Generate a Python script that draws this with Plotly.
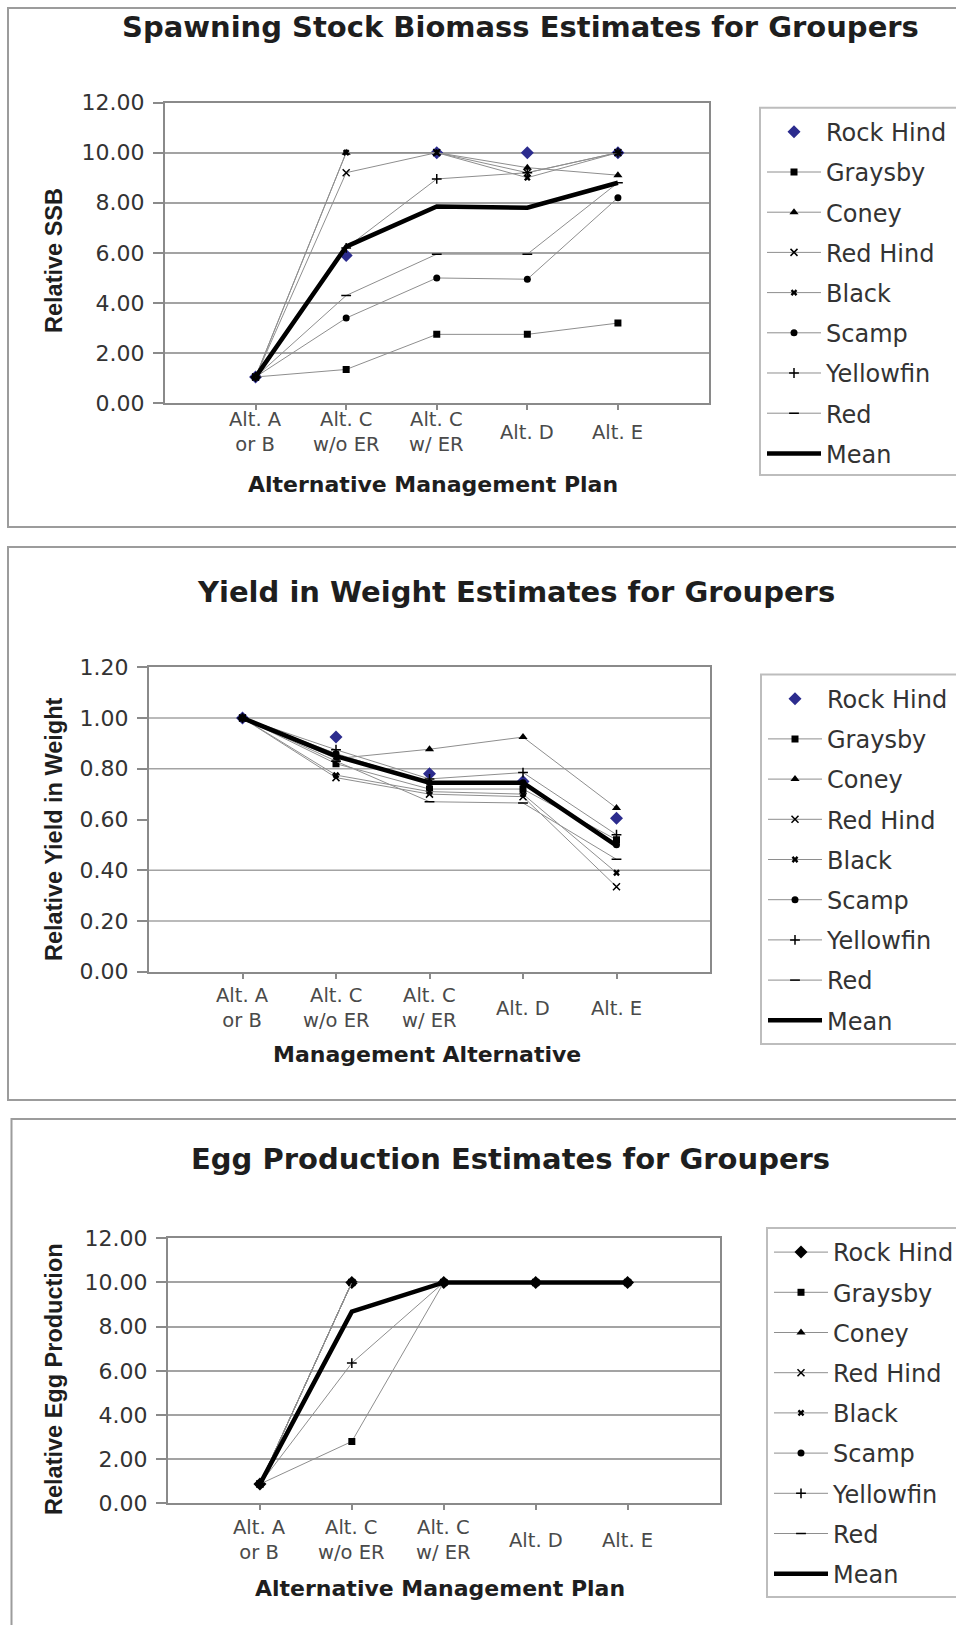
import plotly.graph_objects as go

W, H = 956, 1625

CATEGORIES = ["Alt. A<br>or B", "Alt. C<br>w/o ER", "Alt. C<br>w/ ER", "Alt. D", "Alt. E"]
SPECIES = ["Rock Hind", "Graysby", "Coney", "Red Hind", "Black", "Scamp", "Yellowfin", "Red"]

# Relative spawning stock biomass
SSB_ROCK_HIND = [1.05, 5.9, 10.0, 10.0, 10.0]
SSB_GRAYSBY = [1.05, 1.35, 2.75, 2.75, 3.2]
SSB_CONEY = [1.05, 10.0, 10.0, 9.4, 9.1]
SSB_RED_HIND = [1.05, 9.2, 10.0, 9.2, 10.0]
SSB_BLACK = [1.05, 10.0, 10.0, 9.0, 10.0]
SSB_SCAMP = [1.05, 3.4, 5.0, 4.95, 8.2]
SSB_YELLOWFIN = [1.05, 6.2, 8.95, 9.2, 10.0]
SSB_RED = [1.05, 4.3, 5.95, 5.95, 8.8]
SSB_MEAN = [1.05, 6.25, 7.85, 7.8, 8.8]

# Relative yield in weight
YIELD_ROCK_HIND = [1.0, 0.925, 0.78, 0.75, 0.605]
YIELD_GRAYSBY = [1.0, 0.82, 0.72, 0.72, 0.52]
YIELD_CONEY = [1.0, 0.84, 0.877, 0.925, 0.645]
YIELD_RED_HIND = [1.0, 0.765, 0.70, 0.69, 0.335]
YIELD_BLACK = [1.0, 0.775, 0.71, 0.70, 0.39]
YIELD_SCAMP = [1.0, 0.86, 0.745, 0.745, 0.50]
YIELD_YELLOWFIN = [1.0, 0.875, 0.76, 0.785, 0.54]
YIELD_RED = [1.0, 0.83, 0.67, 0.665, 0.443]
YIELD_MEAN = [1.0, 0.85, 0.745, 0.745, 0.497]

# Relative egg production
EGG_ROCK_HIND = [0.87, 10.0, 10.0, 10.0, 10.0]
EGG_GRAYSBY = [0.87, 2.8, 10.0, 10.0, 10.0]
EGG_CONEY = [0.87, 10.0, 10.0, 10.0, 10.0]
EGG_RED_HIND = [0.87, 10.0, 10.0, 10.0, 10.0]
EGG_BLACK = [0.87, 10.0, 10.0, 10.0, 10.0]
EGG_SCAMP = [0.87, 10.0, 10.0, 10.0, 10.0]
EGG_YELLOWFIN = [0.87, 6.35, 10.0, 10.0, 10.0]
EGG_RED = [0.87, 10.0, 10.0, 10.0, 10.0]
EGG_MEAN = [0.87, 8.68, 10.0, 10.0, 10.0]

YIELD_GRIDLINES = [0.2, 0.4, 0.8, 1.0]

FONT = "DejaVu Sans"
TITLE_FONT = dict(family=FONT, size=29, color="#1e1e1e", weight="bold")
XTITLE_FONT = dict(family=FONT, size=22, color="#1e1e1e", weight="bold")
YTITLE_FONT = dict(family="Liberation Sans", size=23.5, color="#1e1e1e", weight="bold")
TICK_FONT = dict(family=FONT, size=22, color="#333333")
CAT_FONT = dict(family=FONT, size=19.5, color="#4a4a4a")
SPECIES_LINE = "#8e8e8e"
FRAME = "#8a8a8a"
GRID = "#a3a3a3"
ROCK_BLUE = "#2c2c8e"

MARKERS = {
    "Rock Hind": dict(symbol="diamond", size=10),
    "Graysby": dict(symbol="square", size=7),
    "Coney": dict(symbol="triangle-up", size=8),
    "Red Hind": dict(symbol="x-thin", size=7),
    "Black": dict(symbol="x", size=6),
    "Scamp": dict(symbol="circle", size=7),
    "Yellowfin": dict(symbol="cross-thin", size=7),
    "Red": dict(symbol="line-ew", size=7),
}


def px(x):
    return x / W


def py(y):
    return 1 - y / H


panels = [
    dict(
        series=[SSB_ROCK_HIND, SSB_GRAYSBY, SSB_CONEY, SSB_RED_HIND, SSB_BLACK,
                SSB_SCAMP, SSB_YELLOWFIN, SSB_RED],
        mean=SSB_MEAN, rock_blue=True,
        plot=(165, 708.5, 102.5, 403.3), yrange=[0, 12], dtick=2,
        box=(8, 8, 527), legend=(760, 107.7, 475), cat_y=432,
        title="Spawning Stock Biomass Estimates for Groupers", title_xy=(520, 26.5),
        xtitle="Alternative Management Plan", xtitle_xy=(433, 484),
        ytitle="Relative SSB", ytitle_y=261,
    ),
    dict(
        series=[YIELD_ROCK_HIND, YIELD_GRAYSBY, YIELD_CONEY, YIELD_RED_HIND, YIELD_BLACK,
                YIELD_SCAMP, YIELD_YELLOWFIN, YIELD_RED],
        mean=YIELD_MEAN, rock_blue=True,
        plot=(149, 710, 667.3, 971.7), yrange=[0, 1.2], dtick=0.2,
        box=(8, 547, 1100), legend=(761, 674.6, 1044), cat_y=1008,
        title="Yield in Weight Estimates for Groupers", title_xy=(516, 591.5),
        xtitle="Management Alternative", xtitle_xy=(427, 1054.5),
        ytitle="Relative Yield in Weight", ytitle_y=829,
    ),
    dict(
        series=[EGG_ROCK_HIND, EGG_GRAYSBY, EGG_CONEY, EGG_RED_HIND, EGG_BLACK,
                EGG_SCAMP, EGG_YELLOWFIN, EGG_RED],
        mean=EGG_MEAN, rock_blue=False,
        plot=(168, 719.5, 1238.3, 1503.3), yrange=[0, 12], dtick=2,
        box=(11.5, 1119, 1645), legend=(767, 1228, 1597), cat_y=1540,
        title="Egg Production Estimates for Groupers", title_xy=(511, 1158.5),
        xtitle="Alternative Management Plan", xtitle_xy=(440, 1588),
        ytitle="Relative Egg Production", ytitle_y=1379,
    ),
]

fig = go.Figure()
layout = dict(
    width=W, height=H,
    margin=dict(l=0, r=0, t=0, b=0, autoexpand=False),
    paper_bgcolor="white", plot_bgcolor="white",
    showlegend=True,
)
shapes = []
annotations = []

for k, p in enumerate(panels, start=1):
    sfx = "" if k == 1 else str(k)
    xa, ya = "x" + sfx, "y" + sfx
    leg = "legend" + sfx

    for name, vals in zip(SPECIES, p["series"]):
        m = MARKERS[name]
        thin = m["symbol"] in ("x-thin", "cross-thin", "line-ew")
        marker = dict(symbol=m["symbol"], size=m["size"], color="black",
                      line=dict(color="black", width=1.5 if thin else 0))
        mode = "lines+markers"
        if name == "Rock Hind" and p["rock_blue"]:
            marker["color"] = ROCK_BLUE
            mode = "markers"
        fig.add_trace(go.Scatter(
            x=CATEGORIES, y=vals, name=name, mode=mode,
            line=dict(color=SPECIES_LINE, width=1),
            marker=marker, xaxis=xa, yaxis=ya,
            legend=leg, legendgroup=f"{leg}-{name}",
        ))
    fig.add_trace(go.Scatter(
        x=CATEGORIES, y=p["mean"], name="Mean", mode="lines",
        line=dict(color="black", width=4.5),
        xaxis=xa, yaxis=ya, legend=leg, legendgroup=f"{leg}-Mean",
    ))

    x0, x1, y0, y1 = p["plot"]
    layout["xaxis" + sfx] = dict(
        domain=[px(x0), px(x1)], anchor=ya, type="category", range=[-1, 5],
        showticklabels=False, ticks="outside", ticklen=5, tickwidth=1.5, tickcolor=FRAME,
        showline=True, mirror=True, linecolor=FRAME, linewidth=2,
        showgrid=False, zeroline=False, fixedrange=True,
    )
    layout["yaxis" + sfx] = dict(
        domain=[py(y1), py(y0)], anchor=xa, range=p["yrange"], dtick=p["dtick"],
        tick0=0, tickformat=".2f", tickfont=TICK_FONT,
        ticks="outside", ticklen=10, tickwidth=1.5, tickcolor=FRAME, ticklabelstandoff=4,
        showline=True, mirror=True, linecolor=FRAME, linewidth=2,
        showgrid=(k != 2), gridcolor=GRID, gridwidth=1.5, zeroline=False, fixedrange=True,
    )
    if k == 2:
        for v in YIELD_GRIDLINES:
            shapes.append(dict(type="line", xref=xa + " domain", yref=ya, x0=0, x1=1,
                               y0=v, y1=v, line=dict(color=GRID, width=1.5), layer="below"))

    # legend frame runs off the right edge of the page, so it is drawn as a shape
    lx, ly, lb = p["legend"]
    layout[leg] = dict(
        x=px(lx + 2), y=py(ly + 2), xanchor="left", yanchor="top",
        bgcolor="rgba(0,0,0,0)", borderwidth=0,
        font=dict(family=FONT, size=24, color="#333333"),
        itemwidth=54, tracegroupgap=6, traceorder="grouped",
    )
    shapes.append(dict(type="rect", xref="paper", yref="paper",
                       x0=px(lx), x1=px(990), y0=py(lb), y1=py(ly),
                       line=dict(color="#bdbdbd", width=2), fillcolor="white",
                       layer="below"))

    bx, by0, by1 = p["box"]
    shapes.append(dict(type="rect", xref="paper", yref="paper",
                       x0=px(bx), x1=px(985), y0=py(by1), y1=py(by0),
                       line=dict(color="#9c9c9c", width=2), fillcolor="rgba(0,0,0,0)",
                       layer="below"))

    for i, cat in enumerate(CATEGORIES):
        annotations.append(dict(x=i, xref=xa, y=py(p["cat_y"]), yref="paper",
                                text=cat, showarrow=False, font=CAT_FONT,
                                xanchor="center", yanchor="middle"))

    tx, ty = p["title_xy"]
    annotations.append(dict(x=px(tx), y=py(ty), xref="paper", yref="paper",
                            text=p["title"], showarrow=False, font=TITLE_FONT,
                            xanchor="center", yanchor="middle"))
    xtx, xty = p["xtitle_xy"]
    annotations.append(dict(x=px(xtx), y=py(xty), xref="paper", yref="paper",
                            text=p["xtitle"], showarrow=False, font=XTITLE_FONT,
                            xanchor="center", yanchor="middle"))
    annotations.append(dict(x=px(54), y=py(p["ytitle_y"]), xref="paper", yref="paper",
                            text=p["ytitle"], showarrow=False, font=YTITLE_FONT,
                            textangle=-90, xanchor="center", yanchor="middle"))

layout["shapes"] = shapes
layout["annotations"] = annotations
fig.update_layout(**layout)

fig.write_html("out.html")
